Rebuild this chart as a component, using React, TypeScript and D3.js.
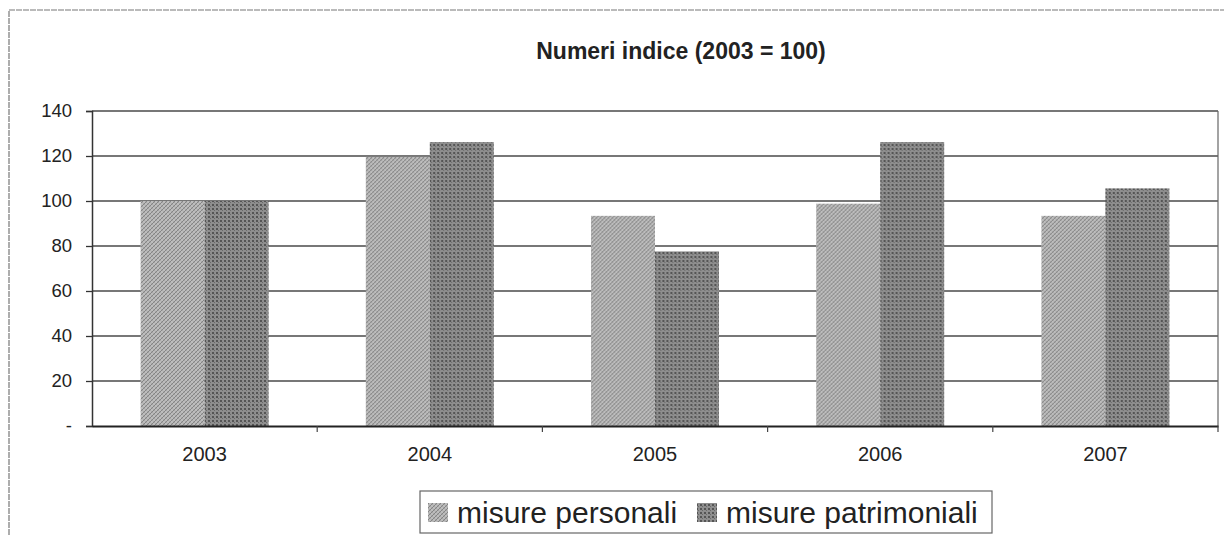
import React, { useEffect, useRef } from 'react';
import * as d3 from 'd3';

const years = ['2003', '2004', '2005', '2006', '2007'];
const personali = [100, 119.6, 93.4, 98.8, 93.4];
const patrimoniali = [100, 126.2, 77.6, 126.2, 105.6];
const seriesNames = ['misure personali', 'misure patrimoniali'];
const yTicks = [0, 20, 40, 60, 80, 100, 120, 140];
const title = 'Numeri indice (2003 = 100)';

const W = 1224, H = 535;

export default function App() {
  const ref = useRef<SVGSVGElement>(null);

  useEffect(() => {
    const svg = d3.select(ref.current);
    svg.selectAll('*').remove();

    // plot area
    const left = 92, right = 1218, top = 111, bottom = 426;

    const defs = svg.append('defs');
    // light crosshatch for personali
    const p1 = defs.append('pattern')
      .attr('id', 'pat-pers')
      .attr('patternUnits', 'userSpaceOnUse')
      .attr('width', 4).attr('height', 4);
    p1.append('rect').attr('width', 4).attr('height', 4).attr('fill', '#bdbdbd');
    p1.append('path').attr('d', 'M0,4 L4,0 M-1,1 L1,-1 M3,5 L5,3')
      .attr('stroke', '#858585').attr('stroke-width', 1);
    p1.append('path').attr('d', 'M0,0 L4,4')
      .attr('stroke', '#a0a0a0').attr('stroke-width', 0.7);

    // darker dotted for patrimoniali
    const p2 = defs.append('pattern')
      .attr('id', 'pat-patr')
      .attr('patternUnits', 'userSpaceOnUse')
      .attr('width', 4).attr('height', 4);
    p2.append('rect').attr('width', 4).attr('height', 4).attr('fill', '#8e8e8e');
    p2.append('rect').attr('x', 0).attr('y', 0).attr('width', 2).attr('height', 2).attr('fill', '#555');
    p2.append('rect').attr('x', 2).attr('y', 2).attr('width', 1).attr('height', 1).attr('fill', '#6a6a6a');

    const fills = ['url(#pat-pers)', 'url(#pat-patr)'];

    // outer frame
    svg.append('rect')
      .attr('x', 9).attr('y', 10)
      .attr('width', W + 20).attr('height', H + 20)
      .attr('fill', 'none')
      .attr('stroke', '#777')
      .attr('stroke-width', 1.2)
      .attr('stroke-dasharray', '6,1');

    const x = d3.scaleBand().domain(years).range([left, right]).paddingInner(0).paddingOuter(0);
    const xs = d3.scaleBand().domain(seriesNames).range([0, x.bandwidth()]).paddingInner(0).paddingOuter(0.76);
    const y = d3.scaleLinear().domain([0, 140]).range([bottom, top]);

    // gridlines
    svg.append('g')
      .selectAll('line')
      .data(yTicks.filter(d => d > 0))
      .join('line')
      .attr('x1', left).attr('x2', right)
      .attr('y1', d => y(d)).attr('y2', d => y(d))
      .attr('stroke', '#4a4a4a')
      .attr('stroke-width', 1.3);

    // right border
    svg.append('line')
      .attr('x1', right).attr('x2', right)
      .attr('y1', top).attr('y2', bottom)
      .attr('stroke', '#666').attr('stroke-width', 1.2);

    // bars
    const data = years.map((yr, i) => ({ yr, vals: [personali[i], patrimoniali[i]] }));
    const groups = svg.append('g').selectAll('g')
      .data(data)
      .join('g')
      .attr('transform', d => `translate(${x(d.yr)},0)`);
    groups.selectAll('rect')
      .data(d => d.vals.map((v, j) => ({ v, j })))
      .join('rect')
      .attr('x', d => xs(seriesNames[d.j])!)
      .attr('width', xs.bandwidth())
      .attr('y', d => y(d.v))
      .attr('height', d => bottom - y(d.v))
      .attr('fill', d => fills[d.j]);

    // y axis
    const yAxis = d3.axisLeft(y)
      .tickValues(yTicks)
      .tickSize(6)
      .tickPadding(14)
      .tickFormat(d => (d === 0 ? '-' : String(d)));
    const gy = svg.append('g').attr('transform', `translate(${left},0)`).call(yAxis);
    gy.select('.domain').attr('stroke', '#333').attr('stroke-width', 1.5);
    gy.selectAll('.tick line').attr('stroke', '#333').attr('stroke-width', 1.3);
    gy.selectAll('.tick text')
      .attr('font-family', 'Arial, "Liberation Sans", sans-serif')
      .attr('font-size', 18.5)
      .attr('fill', '#222');

    // x axis
    const xAxis = d3.axisBottom(x).tickSize(0).tickPadding(21);
    const gx = svg.append('g').attr('transform', `translate(0,${bottom})`).call(xAxis);
    gx.select('.domain').attr('stroke', '#222').attr('stroke-width', 2.2);
    gx.selectAll('.tick text')
      .attr('font-family', 'Arial, "Liberation Sans", sans-serif')
      .attr('font-size', 20)
      .attr('fill', '#222');
    // category boundary ticks
    gx.append('g').selectAll('line')
      .data(years.slice(1))
      .join('line')
      .attr('x1', d => x(d)!).attr('x2', d => x(d)!)
      .attr('y1', 0).attr('y2', 6)
      .attr('stroke', '#444').attr('stroke-width', 1.2);
    gx.append('line')
      .attr('x1', right).attr('x2', right).attr('y1', 0).attr('y2', 6)
      .attr('stroke', '#444').attr('stroke-width', 1.2);

    // title
    svg.append('text')
      .attr('x', 681).attr('y', 59)
      .attr('text-anchor', 'middle')
      .attr('font-family', 'Arial, "Liberation Sans", sans-serif')
      .attr('font-weight', 'bold')
      .attr('font-size', 23)
      .attr('fill', '#222')
      .text(title);

    // legend
    const lg = svg.append('g');
    lg.append('rect')
      .attr('x', 420).attr('y', 491)
      .attr('width', 572).attr('height', 42)
      .attr('fill', 'white')
      .attr('stroke', '#666').attr('stroke-width', 1.2);
    const legendX = [428, 697];
    seriesNames.forEach((name, i) => {
      lg.append('rect')
        .attr('x', legendX[i]).attr('y', 503)
        .attr('width', 20).attr('height', 19)
        .attr('fill', fills[i]);
      lg.append('text')
        .attr('x', legendX[i] + 29).attr('y', 523)
        .attr('font-family', 'Arial, "Liberation Sans", sans-serif')
        .attr('font-size', 30)
        .attr('fill', '#222')
        .text(name);
    });
  }, []);

  return (
    <svg
      ref={ref}
      width={W}
      height={H}
      style={{ position: 'absolute', left: 0, top: 0, background: 'white' }}
    />
  );
}
